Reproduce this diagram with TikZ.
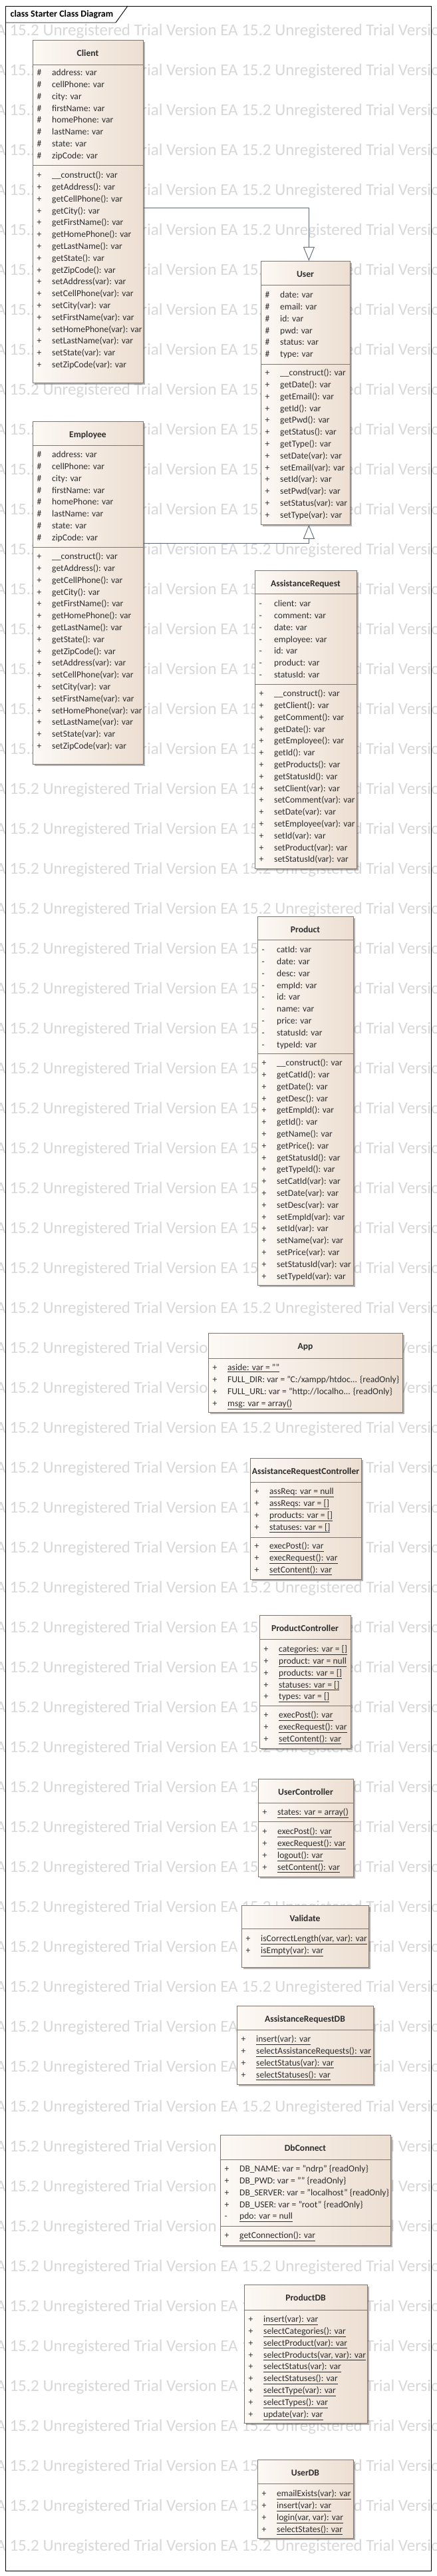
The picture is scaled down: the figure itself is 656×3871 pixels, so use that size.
\documentclass[tikz,border=0pt]{standalone}
\usepackage
{
	fontspec,
	xcolor
}
\setmainfont{Carlito}
\usetikzlibrary{arrows.meta,shadows}

\definecolor{boxleft}{RGB}{253,249,245}
\definecolor{boxright}{RGB}{236,222,209}
\definecolor{boxline}{RGB}{128,118,112}
\definecolor{linkline}{RGB}{95,104,118}
\definecolor{wmgray}{RGB}{216,216,216}
\definecolor{textcol}{RGB}{45,45,45}
\newcommand{\memvis}[1]{\makebox[22.5pt][l]{#1}}

\tikzset{
	classbox/.style={draw=boxline, line width=0.8pt, left color=boxleft, right color=boxright, anchor=north west, inner sep=0pt, drop shadow={shadow xshift=3pt, shadow yshift=-3pt, opacity=0.3, fill=black}},
	classname/.style={anchor=base, inner sep=0pt, text=textcol, font=\fontsize{13.6pt}{17.8pt}\selectfont\bfseries},
	members/.style={anchor=north west, inner sep=0pt, align=left, text=textcol, font=\fontsize{13.6pt}{17.8pt}\selectfont},
	compline/.style={draw=boxline, line width=0.8pt},
	inherits/.style={draw=linkline, line width=0.9pt, -{Triangle[length=21pt, width=17pt, fill=white]}},
	watermark/.style={anchor=base west, inner sep=0pt, text=wmgray, font=\fontsize{25pt}{30pt}\selectfont}
}

\begin{document}
\begin{tikzpicture}[x=1pt, y=-1pt]
{
	\useasboundingbox (0,0) rectangle (656,3871);
	\fill[white] (0,0) rectangle (656,3871);
	\foreach \row in {0,...,63}
		\node[watermark] (wm\row) at (-17.7, 53+60*\row) {EA 15.2 Unregistered Trial Version EA 15.2 Unregistered Trial Version};

	% frame
	\node[draw, line width=1pt, anchor=north west, minimum width=640pt, minimum height=3854pt, inner sep=0pt] (Frame) at (8,9) {};
	\draw[line width=0.9pt] (8,34) -- (174,34) -- (192,9);
	\node[anchor=base west, inner sep=0pt, font=\fontsize{14pt}{17pt}\selectfont\bfseries] (FrameName) at (15.5,25) {class Starter Class Diagram};

	% Client
	\node[classbox, minimum width=166pt, minimum height=515pt] (Client) at (49,60) {};
	\node[classname] (ClientName) at (132,84) {Client};
	\draw[compline] (49,97) -- (215,97);
	\draw[compline] (49,248) -- (215,248);
	\node[members] (ClientAttr) at (55.5,101.5) {\rule{0pt}{12pt}\memvis{\#}address: var\\ \memvis{\#}cellPhone: var\\ \memvis{\#}city: var\\ \memvis{\#}firstName: var\\ \memvis{\#}homePhone: var\\ \memvis{\#}lastName: var\\ \memvis{\#}state: var\\ \memvis{\#}zipCode: var};
	\node[members] (ClientOps) at (55.5,255.5) {\rule{0pt}{12pt}\memvis{+}\_\_construct(): var\\ \memvis{+}getAddress(): var\\ \memvis{+}getCellPhone(): var\\ \memvis{+}getCity(): var\\ \memvis{+}getFirstName(): var\\ \memvis{+}getHomePhone(): var\\ \memvis{+}getLastName(): var\\ \memvis{+}getState(): var\\ \memvis{+}getZipCode(): var\\ \memvis{+}setAddress(var): var\\ \memvis{+}setCellPhone(var): var\\ \memvis{+}setCity(var): var\\ \memvis{+}setFirstName(var): var\\ \memvis{+}setHomePhone(var): var\\ \memvis{+}setLastName(var): var\\ \memvis{+}setState(var): var\\ \memvis{+}setZipCode(var): var};

	% User
	\node[classbox, minimum width=134pt, minimum height=396pt] (User) at (392,392) {};
	\node[classname] (UserName) at (459,416) {User};
	\draw[compline] (392,428) -- (526,428);
	\draw[compline] (392,547) -- (526,547);
	\node[members] (UserAttr) at (398.5,435.5) {\rule{0pt}{12pt}\memvis{\#}date: var\\ \memvis{\#}email: var\\ \memvis{\#}id: var\\ \memvis{\#}pwd: var\\ \memvis{\#}status: var\\ \memvis{\#}type: var};
	\node[members] (UserOps) at (398.5,552.5) {\rule{0pt}{12pt}\memvis{+}\_\_construct(): var\\ \memvis{+}getDate(): var\\ \memvis{+}getEmail(): var\\ \memvis{+}getId(): var\\ \memvis{+}getPwd(): var\\ \memvis{+}getStatus(): var\\ \memvis{+}getType(): var\\ \memvis{+}setDate(var): var\\ \memvis{+}setEmail(var): var\\ \memvis{+}setId(var): var\\ \memvis{+}setPwd(var): var\\ \memvis{+}setStatus(var): var\\ \memvis{+}setType(var): var};

	% Employee
	\node[classbox, minimum width=166pt, minimum height=515pt] (Employee) at (49,633) {};
	\node[classname] (EmployeeName) at (132,657) {Employee};
	\draw[compline] (49,669) -- (215,669);
	\draw[compline] (49,822) -- (215,822);
	\node[members] (EmployeeAttr) at (55.5,675.5) {\rule{0pt}{12pt}\memvis{\#}address: var\\ \memvis{\#}cellPhone: var\\ \memvis{\#}city: var\\ \memvis{\#}firstName: var\\ \memvis{\#}homePhone: var\\ \memvis{\#}lastName: var\\ \memvis{\#}state: var\\ \memvis{\#}zipCode: var};
	\node[members] (EmployeeOps) at (55.5,828.5) {\rule{0pt}{12pt}\memvis{+}\_\_construct(): var\\ \memvis{+}getAddress(): var\\ \memvis{+}getCellPhone(): var\\ \memvis{+}getCity(): var\\ \memvis{+}getFirstName(): var\\ \memvis{+}getHomePhone(): var\\ \memvis{+}getLastName(): var\\ \memvis{+}getState(): var\\ \memvis{+}getZipCode(): var\\ \memvis{+}setAddress(var): var\\ \memvis{+}setCellPhone(var): var\\ \memvis{+}setCity(var): var\\ \memvis{+}setFirstName(var): var\\ \memvis{+}setHomePhone(var): var\\ \memvis{+}setLastName(var): var\\ \memvis{+}setState(var): var\\ \memvis{+}setZipCode(var): var};

	\draw[inherits] ([yshift=-252pt]Client.north east) -| ([xshift=5pt]User.north);
	\draw[inherits] ([yshift=-183pt]Employee.north east) -| ([xshift=5pt]User.south);

	% AssistanceRequest
	\node[classbox, minimum width=153pt, minimum height=448pt] (AssistanceRequest) at (383,857) {};
	\node[classname] (AssistanceRequestName) at (459.5,881) {AssistanceRequest};
	\draw[compline] (383,892) -- (536,892);
	\draw[compline] (383,1028) -- (536,1028);
	\node[members] (AssistanceRequestAttr) at (389.5,899.5) {\rule{0pt}{12pt}\memvis{-}client: var\\ \memvis{-}comment: var\\ \memvis{-}date: var\\ \memvis{-}employee: var\\ \memvis{-}id: var\\ \memvis{-}product: var\\ \memvis{-}statusId: var};
	\node[members] (AssistanceRequestOps) at (389.5,1034.5) {\rule{0pt}{12pt}\memvis{+}\_\_construct(): var\\ \memvis{+}getClient(): var\\ \memvis{+}getComment(): var\\ \memvis{+}getDate(): var\\ \memvis{+}getEmployee(): var\\ \memvis{+}getId(): var\\ \memvis{+}getProducts(): var\\ \memvis{+}getStatusId(): var\\ \memvis{+}setClient(var): var\\ \memvis{+}setComment(var): var\\ \memvis{+}setDate(var): var\\ \memvis{+}setEmployee(var): var\\ \memvis{+}setId(var): var\\ \memvis{+}setProduct(var): var\\ \memvis{+}setStatusId(var): var};

	% Product
	\node[classbox, minimum width=144pt, minimum height=554pt] (Product) at (387,1377) {};
	\node[classname] (ProductName) at (459,1401) {Product};
	\draw[compline] (387,1412) -- (531,1412);
	\draw[compline] (387,1583) -- (531,1583);
	\node[members] (ProductAttr) at (393.5,1419.5) {\rule{0pt}{12pt}\memvis{-}catId: var\\ \memvis{-}date: var\\ \memvis{-}desc: var\\ \memvis{-}empId: var\\ \memvis{-}id: var\\ \memvis{-}name: var\\ \memvis{-}price: var\\ \memvis{-}statusId: var\\ \memvis{-}typeId: var};
	\node[members] (ProductOps) at (393.5,1589.5) {\rule{0pt}{12pt}\memvis{+}\_\_construct(): var\\ \memvis{+}getCatId(): var\\ \memvis{+}getDate(): var\\ \memvis{+}getDesc(): var\\ \memvis{+}getEmpId(): var\\ \memvis{+}getId(): var\\ \memvis{+}getName(): var\\ \memvis{+}getPrice(): var\\ \memvis{+}getStatusId(): var\\ \memvis{+}getTypeId(): var\\ \memvis{+}setCatId(var): var\\ \memvis{+}setDate(var): var\\ \memvis{+}setDesc(var): var\\ \memvis{+}setEmpId(var): var\\ \memvis{+}setId(var): var\\ \memvis{+}setName(var): var\\ \memvis{+}setPrice(var): var\\ \memvis{+}setStatusId(var): var\\ \memvis{+}setTypeId(var): var};

	% App
	\node[classbox, minimum width=292pt, minimum height=119pt] (App) at (313,2003) {};
	\node[classname] (AppName) at (459,2027) {App};
	\draw[compline] (313,2041) -- (605,2041);
	\node[members] (AppAttr) at (319.5,2047.5) {\rule{0pt}{12pt}\memvis{+}\underline{aside: var = ""}\\ \memvis{+}FULL\_DIR: var = "C:/xampp/htdoc... \{readOnly\}\\ \memvis{+}FULL\_URL: var = "http://localho... \{readOnly\}\\ \memvis{+}\underline{msg: var = array()}};

	% AssistanceRequestController
	\node[classbox, minimum width=167pt, minimum height=182pt] (AssistanceRequestController) at (376,2191) {};
	\node[classname] (AssistanceRequestControllerName) at (459.5,2215) {AssistanceRequestController};
	\draw[compline] (376,2227) -- (543,2227);
	\draw[compline] (376,2310) -- (543,2310);
	\node[members] (AssistanceRequestControllerAttr) at (382.5,2233.5) {\rule{0pt}{12pt}\memvis{+}\underline{assReq: var = null}\\ \memvis{+}\underline{assReqs: var = []}\\ \memvis{+}\underline{products: var = []}\\ \memvis{+}\underline{statuses: var = []}};
	\node[members] (AssistanceRequestControllerOps) at (382.5,2315.5) {\rule{0pt}{12pt}\memvis{+}\underline{execPost(): var}\\ \memvis{+}\underline{execRequest(): var}\\ \memvis{+}\underline{setContent(): var}};

	% ProductController
	\node[classbox, minimum width=137pt, minimum height=200pt] (ProductController) at (390,2427) {};
	\node[classname] (ProductControllerName) at (458.5,2451) {ProductController};
	\draw[compline] (390,2463) -- (527,2463);
	\draw[compline] (390,2563) -- (527,2563);
	\node[members] (ProductControllerAttr) at (396.5,2470.5) {\rule{0pt}{12pt}\memvis{+}\underline{categories: var = []}\\ \memvis{+}\underline{product: var = null}\\ \memvis{+}\underline{products: var = []}\\ \memvis{+}\underline{statuses: var = []}\\ \memvis{+}\underline{types: var = []}};
	\node[members] (ProductControllerOps) at (396.5,2569.5) {\rule{0pt}{12pt}\memvis{+}\underline{execPost(): var}\\ \memvis{+}\underline{execRequest(): var}\\ \memvis{+}\underline{setContent(): var}};

	% UserController
	\node[classbox, minimum width=143pt, minimum height=147pt] (UserController) at (388,2673) {};
	\node[classname] (UserControllerName) at (459.5,2697) {UserController};
	\draw[compline] (388,2709) -- (531,2709);
	\draw[compline] (388,2737) -- (531,2737);
	\node[members] (UserControllerAttr) at (394.5,2715.5) {\rule{0pt}{12pt}\memvis{+}\underline{states: var = array()}};
	\node[members] (UserControllerOps) at (394.5,2744.5) {\rule{0pt}{12pt}\memvis{+}\underline{execPost(): var}\\ \memvis{+}\underline{execRequest(): var}\\ \memvis{+}\underline{logout(): var}\\ \memvis{+}\underline{setContent(): var}};

	% Validate
	\node[classbox, minimum width=191pt, minimum height=93pt] (Validate) at (363,2863) {};
	\node[classname] (ValidateName) at (458.5,2887) {Validate};
	\draw[compline] (363,2898) -- (554,2898);
	\node[members] (ValidateOps) at (369.5,2905.5) {\rule{0pt}{12pt}\memvis{+}\underline{isCorrectLength(var, var): var}\\ \memvis{+}\underline{isEmpty(var): var}};

	% AssistanceRequestDB
	\node[classbox, minimum width=205pt, minimum height=118pt] (AssistanceRequestDB) at (356,3014) {};
	\node[classname] (AssistanceRequestDBName) at (458.5,3038) {AssistanceRequestDB};
	\draw[compline] (356,3050) -- (561,3050);
	\node[members] (AssistanceRequestDBOps) at (362.5,3056.5) {\rule{0pt}{12pt}\memvis{+}\underline{insert(var): var}\\ \memvis{+}\underline{selectAssistanceRequests(): var}\\ \memvis{+}\underline{selectStatus(var): var}\\ \memvis{+}\underline{selectStatuses(): var}};

	% DbConnect
	\node[classbox, minimum width=256pt, minimum height=166pt] (DbConnect) at (331,3208) {};
	\node[classname] (DbConnectName) at (459,3232) {DbConnect};
	\draw[compline] (331,3245) -- (587,3245);
	\draw[compline] (331,3345) -- (587,3345);
	\node[members] (DbConnectAttr) at (337.5,3251.5) {\rule{0pt}{12pt}\memvis{+}DB\_NAME: var = "ndrp" \{readOnly\}\\ \memvis{+}DB\_PWD: var = "" \{readOnly\}\\ \memvis{+}DB\_SERVER: var = "localhost" \{readOnly\}\\ \memvis{+}DB\_USER: var = "root" \{readOnly\}\\ \memvis{-}\underline{pdo: var = null}};
	\node[members] (DbConnectOps) at (337.5,3351.5) {\rule{0pt}{12pt}\memvis{+}\underline{getConnection(): var}};

	% ProductDB
	\node[classbox, minimum width=185pt, minimum height=208pt] (ProductDB) at (367,3433) {};
	\node[classname] (ProductDBName) at (459.5,3457) {ProductDB};
	\draw[compline] (367,3471) -- (552,3471);
	\node[members] (ProductDBOps) at (373.5,3477.5) {\rule{0pt}{12pt}\memvis{+}\underline{insert(var): var}\\ \memvis{+}\underline{selectCategories(): var}\\ \memvis{+}\underline{selectProduct(var): var}\\ \memvis{+}\underline{selectProducts(var, var): var}\\ \memvis{+}\underline{selectStatus(var): var}\\ \memvis{+}\underline{selectStatuses(): var}\\ \memvis{+}\underline{selectType(var): var}\\ \memvis{+}\underline{selectTypes(): var}\\ \memvis{+}\underline{update(var): var}};

	% UserDB
	\node[classbox, minimum width=144pt, minimum height=118pt] (UserDB) at (387,3696) {};
	\node[classname] (UserDBName) at (459,3720) {UserDB};
	\draw[compline] (387,3732) -- (531,3732);
	\node[members] (UserDBOps) at (393.5,3739.5) {\rule{0pt}{12pt}\memvis{+}\underline{emailExists(var): var}\\ \memvis{+}\underline{insert(var): var}\\ \memvis{+}\underline{login(var, var): var}\\ \memvis{+}\underline{selectStates(): var}};
}
\end{tikzpicture}
\end{document}
